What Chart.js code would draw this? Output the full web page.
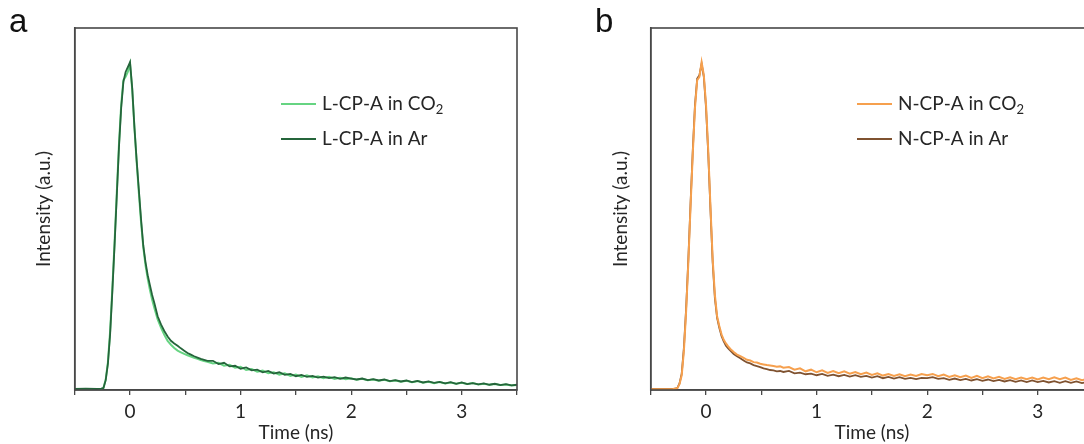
<!DOCTYPE html>
<html>
<head>
<meta charset="utf-8">
<script src="https://cdn.jsdelivr.net/npm/chart.js@4"></script>
<style>
  html, body { margin:0; padding:0; background:#fff; overflow:hidden; width:1084px; height:444px; }
  .wrap { position:absolute; top:0; height:444px; }
  #wa { left:0; width:540px; }
  #wb { left:540px; width:580px; }
  .tag { position:absolute; top:2px; font-family:"Liberation Sans", Arial, sans-serif; font-size:33px; color:#111; }
</style>
</head>
<body>
<div class="wrap" id="wa"><canvas id="ca" width="540" height="444"></canvas></div>
<div class="wrap" id="wb"><canvas id="cb" width="580" height="444"></canvas></div>
<div class="tag" style="left:9px;">a</div>
<div class="tag" style="left:595px;">b</div>
<script>
// ---------- data ----------
const timeNs = [-0.5,-0.4,-0.3,-0.26,-0.24,-0.22,-0.2,-0.18,-0.16,-0.14,-0.12,-0.1,-0.08,-0.06,-0.04,-0.02,0,0.02,0.04,0.06,0.08,0.1,0.12,0.14,0.16,0.18,0.2,0.22,0.25,0.28,0.31,0.34,0.37,0.4,0.43,0.46,0.49,0.52,0.55,0.58,0.61,0.64,0.67,0.7,
  0.75,0.8,0.85,0.9,0.95,1,1.05,1.1,1.15,1.2,1.25,1.3,1.35,1.4,1.45,1.5,1.55,1.6,1.65,1.7,1.75,1.8,1.85,1.9,1.95,2,
  2.05,2.1,2.15,2.2,2.25,2.3,2.35,2.4,2.45,2.5,2.55,2.6,2.65,2.7,2.75,2.8,2.85,2.9,2.95,3,3.05,3.1,3.15,3.2,3.25,3.3,3.35,3.4,3.45,3.5];

const seriesNamesA = ['L-CP-A in CO₂', 'L-CP-A in Ar'];
const seriesNamesB = ['N-CP-A in CO₂', 'N-CP-A in Ar'];

const lcpaCO2 = [0.002,0.003,0.002,0.003,0.007,0.032,0.085,0.18,0.31,0.45,0.60,0.75,0.87,0.945,0.955,0.97,0.995,0.915,0.80,0.695,0.60,0.51,0.435,0.38,0.34,0.305,0.275,0.25,0.215,0.19,0.168,0.15,0.138,0.128,0.12,0.115,0.11,0.106,0.102,0.098,0.095,0.091,0.088,0.086,
  0.081,0.083,0.074,0.077,0.068,0.071,0.061,0.064,0.056,0.059,0.051,0.054,0.047,0.051,0.043,0.047,0.040,0.045,0.038,0.042,0.036,0.040,0.034,0.037,0.033,0.036,
  0.031,0.034,0.030,0.032,0.028,0.031,0.027,0.029,0.025,0.028,0.024,0.027,0.022,0.025,0.021,0.024,0.020,0.023,0.019,0.022,0.018,0.021,0.017,0.019,0.016,0.018,0.015,0.017,0.014,0.015];

const lcpaAr = [0.003,0.004,0.003,0.004,0.006,0.03,0.08,0.17,0.30,0.44,0.59,0.74,0.86,0.94,0.97,0.985,1.0,0.92,0.80,0.70,0.61,0.52,0.44,0.39,0.35,0.32,0.29,0.265,0.225,0.20,0.18,0.163,0.15,0.142,0.135,0.127,0.12,0.113,0.108,0.103,0.099,0.095,0.092,0.089,
  0.089,0.079,0.083,0.072,0.074,0.065,0.069,0.060,0.062,0.054,0.058,0.050,0.054,0.046,0.049,0.042,0.046,0.040,0.043,0.038,0.041,0.036,0.039,0.034,0.038,0.035,
  0.032,0.035,0.030,0.033,0.029,0.032,0.027,0.030,0.026,0.029,0.024,0.028,0.023,0.026,0.022,0.025,0.020,0.024,0.019,0.023,0.018,0.021,0.017,0.020,0.016,0.019,0.015,0.018,0.014,0.016];

const ncpaCO2 = [0.002,0.002,0.003,0.005,0.018,0.045,0.12,0.24,0.39,0.56,0.72,0.86,0.945,0.955,1.0,0.96,0.87,0.73,0.56,0.40,0.29,0.225,0.195,0.17,0.153,0.142,0.133,0.125,0.116,0.108,0.103,0.098,0.092,0.09,0.085,0.084,0.08,0.078,0.076,0.075,0.073,0.071,0.072,0.068,
  0.070,0.062,0.066,0.057,0.062,0.054,0.060,0.052,0.058,0.051,0.057,0.050,0.055,0.048,0.053,0.046,0.051,0.044,0.049,0.043,0.048,0.042,0.047,0.043,0.049,0.045,
  0.049,0.042,0.047,0.040,0.045,0.039,0.044,0.037,0.043,0.036,0.042,0.035,0.040,0.034,0.039,0.033,0.038,0.033,0.038,0.032,0.038,0.033,0.039,0.033,0.038,0.031,0.036,0.030,0.034,0.031];

const ncpaAr = [0.003,0.003,0.003,0.006,0.02,0.05,0.13,0.25,0.40,0.57,0.73,0.87,0.95,0.96,0.995,0.955,0.86,0.72,0.55,0.39,0.28,0.22,0.19,0.165,0.148,0.135,0.127,0.12,0.11,0.103,0.097,0.09,0.084,0.081,0.076,0.073,0.07,0.066,0.064,0.061,0.060,0.057,0.058,0.055,
  0.058,0.051,0.053,0.048,0.050,0.045,0.049,0.043,0.047,0.042,0.046,0.041,0.045,0.040,0.043,0.038,0.042,0.036,0.040,0.035,0.039,0.034,0.037,0.033,0.037,0.036,
  0.039,0.034,0.036,0.031,0.035,0.030,0.034,0.029,0.033,0.028,0.032,0.027,0.031,0.026,0.030,0.025,0.029,0.024,0.029,0.024,0.028,0.023,0.027,0.022,0.027,0.022,0.026,0.021,0.025,0.022];

const xTickLabels = ['0','1','2','3'];

// ---------- helpers ----------
const FONT = 'Lato, "Open Sans", sans-serif';
const TEXT = '#262626';
const AXIS = '#484848';

function pts(xs, ys) { return xs.map((x, i) => ({x: x, y: ys[i]})); }

const framePlugin = {
  id: 'frame',
  afterDatasetsDraw(chart) {
    const {ctx, chartArea: a} = chart;
    ctx.save();
    ctx.strokeStyle = AXIS;
    ctx.lineWidth = 1.6;
    ctx.strokeRect(a.left, a.top, a.right - a.left, a.bottom - a.top);
    ctx.restore();
  }
};

const legendPlugin = {
  id: 'customLegend',
  afterDraw(chart, args, opts) {
    const ctx = chart.ctx;
    ctx.save();
    chart.data.datasets.forEach((ds, i) => {
      const y = opts.y + i * opts.gap;
      ctx.strokeStyle = ds.borderColor;
      ctx.lineWidth = 2;
      ctx.beginPath();
      ctx.moveTo(opts.x, y);
      ctx.lineTo(opts.x + opts.len, y);
      ctx.stroke();
      ctx.fillStyle = TEXT;
      ctx.textBaseline = 'middle';
      ctx.textAlign = 'left';
      let tx = opts.x + opts.len + opts.pad;
      for (const ch of ds.label) {
        if (ch === '₂') {
          ctx.font = '13px ' + FONT;
          ctx.fillText('2', tx, y + 6);
          tx += ctx.measureText('2').width;
        } else {
          ctx.font = opts.size + 'px ' + FONT;
          ctx.fillText(ch, tx, y);
          tx += ctx.measureText(ch).width;
        }
      }
    });
    ctx.restore();
  }
};

function makeChart(id, names, s1, s2, colors, orders, pad, yW, legend) {
  return new Chart(document.getElementById(id), {
    type: 'scatter',
    data: {
      datasets: [
        { label: names[0], data: pts(timeNs, s1), borderColor: colors[0], showLine: true, pointRadius: 0, borderWidth: 2, tension: 0, order: orders[0] },
        { label: names[1], data: pts(timeNs, s2), borderColor: colors[1], showLine: true, pointRadius: 0, borderWidth: 1.8, tension: 0, order: orders[1] }
      ]
    },
    options: {
      responsive: false,
      animation: false,
      events: [],
      layout: { padding: pad },
      plugins: { legend: { display: false }, tooltip: { enabled: false }, customLegend: legend },
      scales: {
        x: {
          type: 'linear', min: -0.5, max: 3.5,
          afterFit(s) { s.height = 54; },
          ticks: {
            stepSize: 0.5, autoSkip: false, maxRotation: 0, padding: 5,
            color: TEXT, font: { family: FONT, size: 19 },
            callback: (v) => { const k = xTickLabels.indexOf(String(v)); return k >= 0 ? xTickLabels[k] : ''; }
          },
          grid: { display: true, drawOnChartArea: false, drawTicks: true, tickLength: 5, color: AXIS, lineWidth: 1.3 },
          border: { display: true, color: AXIS, width: 1.6 },
          title: { display: true, text: 'Time (ns)', color: TEXT, font: { family: FONT, size: 19 }, padding: { top: 0, bottom: 0 } }
        },
        y: {
          type: 'linear', min: 0, max: 1.104,
          afterFit(s) { s.width = yW; },
          ticks: { display: false },
          grid: { display: false },
          border: { display: true, color: AXIS, width: 1.6 },
          title: { display: true, text: 'Intensity (a.u.)', color: TEXT, font: { family: FONT, size: 19 }, padding: { top: 0, bottom: 0 } }
        }
      }
    },
    plugins: [framePlugin, legendPlugin]
  });
}

makeChart('ca', seriesNamesA, lcpaCO2, lcpaAr, ['#66d482', '#25653b'], [1, 0],
  { left: 32, right: 23, top: 28, bottom: 0 }, 42.75,
  { x: 281, y: 104, gap: 35, len: 35, pad: 6, size: 19 });

makeChart('cb', seriesNamesB, ncpaCO2, ncpaAr, ['#f6a04e', '#7f5230'], [0, 1],
  { left: 69, right: 27, top: 28, bottom: 0 }, 41.75,
  { x: 317, y: 104, gap: 35, len: 35, pad: 6, size: 19 });
</script>
</body>
</html>
